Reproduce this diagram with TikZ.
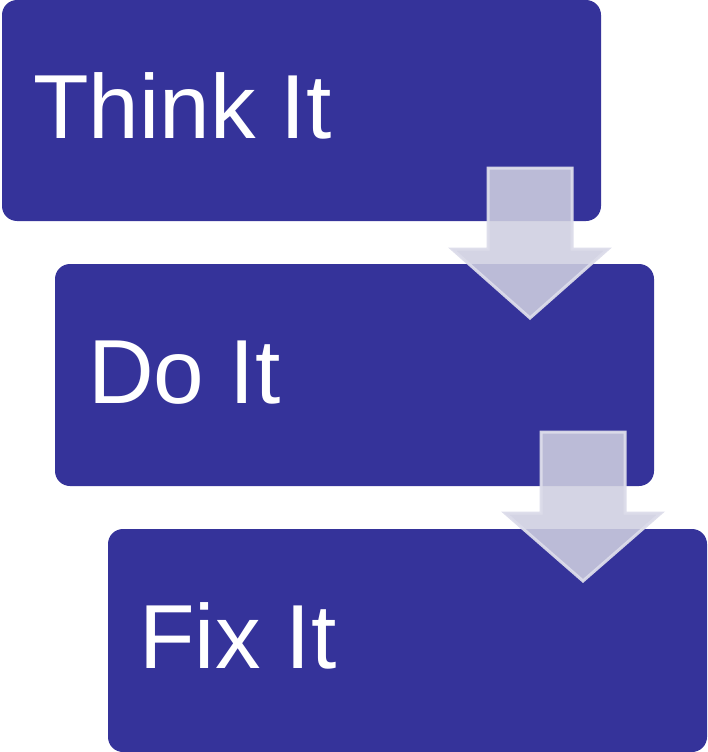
\documentclass[tikz,border=0pt]{standalone}
\usepackage{fontspec}
\setmainfont{Liberation Sans}
\definecolor{boxblue}{RGB}{53,51,154}
\definecolor{arrowfill}{RGB}{206,206,224}
\definecolor{arrowline}{RGB}{220,220,234}
\begin{document}
\begin{tikzpicture}[x=1pt,y=-1pt,
  stepbox/.style={fill=boxblue, draw=none, rounded corners=15pt},
  steptext/.style={anchor=base west, inner sep=0pt, text=white, font=\fontsize{91}{100}\selectfont},
  blockarrow/.style={fill=arrowfill, fill opacity=0.88, draw=arrowline, draw opacity=0.95, line width=3pt, line join=miter}]
\useasboundingbox (0,0) rectangle (707,752);
% boxes
\path[stepbox] (2,0) rectangle (601,221);
\path[stepbox] (55,264) rectangle (654,486);
\path[stepbox] (108,529) rectangle (707,752);
\node[steptext] (t1) at (33,138) {Think It};
\node[steptext] (t2) at (88,403) {Do It};
\node[steptext] (t3) at (139,668) {Fix It};
% arrows
\draw[blockarrow] (488,168) -- (572,168) -- (572,249) -- (608,249) -- (530,318) -- (452,249) -- (488,249) -- cycle;
\draw[blockarrow] (541,432) -- (625,432) -- (625,513) -- (661,513) -- (583,581) -- (505,513) -- (541,513) -- cycle;
\end{tikzpicture}
\end{document}
